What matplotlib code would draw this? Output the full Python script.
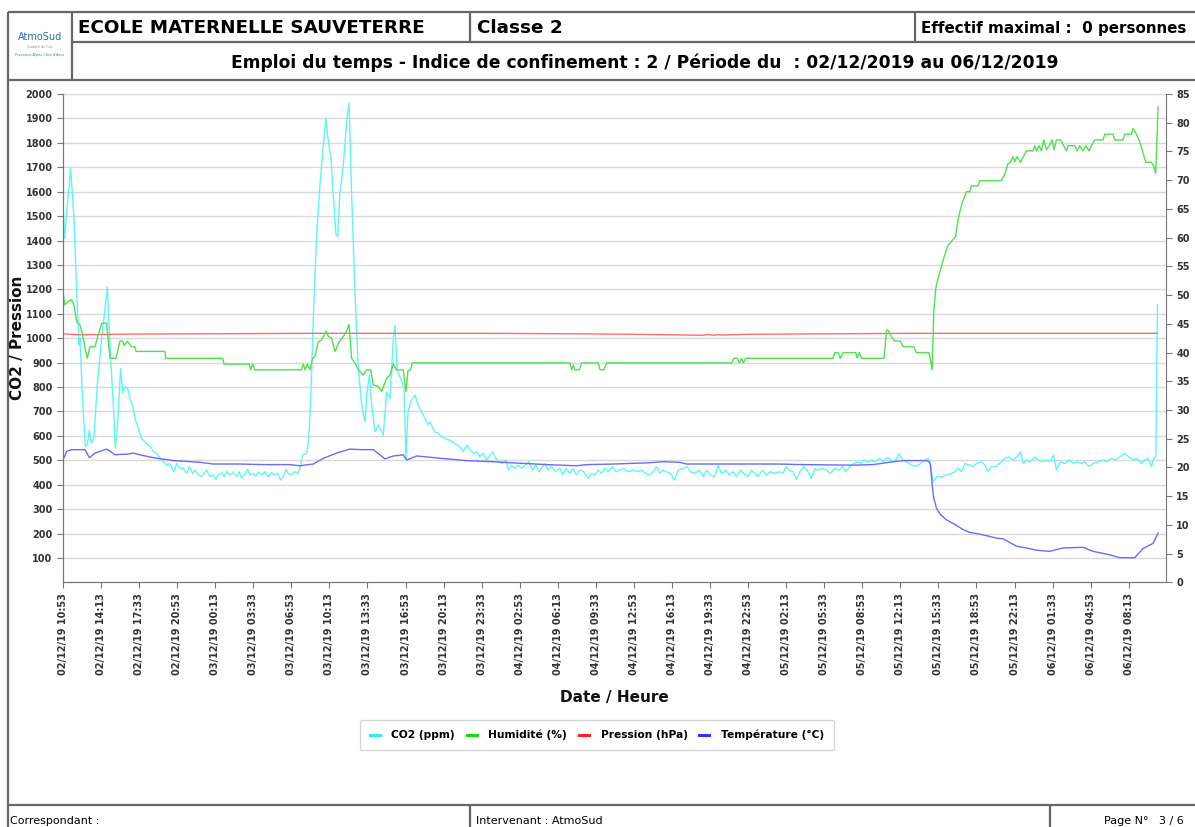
import datetime as dt
import matplotlib
matplotlib.use("Agg")
import matplotlib.pyplot as plt
import matplotlib.dates as mdates
from matplotlib.lines import Line2D

plt.rcParams['font.family'] = 'DejaVu Sans'
plt.rcParams['font.weight'] = 'bold'

start = dt.datetime(2019, 12, 2, 10, 53)

# (hours since start, value)
co2_points = [
    (0, 1559), (0.15, 1409), (0.32, 1518), (0.67, 1696), (0.96, 1491), (1.2, 1190),
    (1.4, 972), (1.49, 1000), (1.72, 740), (1.96, 556), (2.13, 563), (2.31, 624),
    (2.48, 570), (2.71, 590), (3.0, 808), (3.39, 1000), (3.65, 1109), (3.88, 1211),
    (4.17, 918), (4.47, 672), (4.58, 549), (4.76, 631), (4.87, 726), (5.05, 877),
    (5.23, 774), (5.43, 801), (5.66, 795), (5.93, 740), (6.1, 726), (6.3, 672),
    (6.89, 589), (7.18, 575), (7.47, 562), (7.68, 555), (7.91, 535), (8.2, 528),
    (8.5, 508), (8.79, 494), (9.08, 480), (9.37, 487), (9.72, 453), (9.95, 487),
    (10.25, 467), (10.54, 467), (10.83, 446), (11.06, 474), (11.36, 446), (11.56, 460),
    (11.85, 440), (12.14, 433), (12.35, 446), (12.58, 460), (12.87, 433), (13.16, 440),
    (13.4, 422), (13.6, 440), (13.89, 449), (14.13, 433), (14.33, 453), (14.62, 440),
    (14.91, 449), (15.21, 433), (15.44, 453), (15.65, 426), (15.94, 446), (16.17, 463),
    (16.37, 440), (16.67, 446), (16.9, 435), (17.1, 453), (17.4, 440), (17.69, 453),
    (17.98, 433), (18.27, 449), (18.56, 440), (18.8, 446), (19.06, 419), (19.29, 433),
    (19.53, 463), (19.73, 446), (20.02, 440), (20.31, 453), (20.6, 446), (20.81, 480),
    (20.99, 521), (21.34, 528), (21.52, 590), (21.69, 740), (21.92, 1081), (22.21, 1423),
    (22.5, 1627), (22.8, 1791), (23.03, 1900), (23.24, 1805), (23.47, 1737), (23.67, 1586),
    (23.91, 1423), (24.05, 1416), (24.26, 1600), (24.55, 1709), (24.84, 1887), (25.05, 1962),
    (25.28, 1586), (25.57, 1190), (25.86, 877), (26.16, 726), (26.45, 658), (26.59, 767),
    (26.83, 849), (27.03, 726), (27.32, 617), (27.61, 645), (28.05, 603), (28.34, 780),
    (28.64, 754), (28.93, 1000), (29.07, 1054), (29.28, 863), (29.57, 836), (29.86, 795),
    (30.04, 508), (30.21, 699), (30.45, 740), (30.83, 767), (31.12, 726), (31.55, 685),
    (31.99, 645), (32.13, 657), (32.57, 616), (32.86, 610), (33.15, 596), (33.44, 589),
    (33.88, 582), (34.32, 569), (34.76, 555), (35.05, 535), (35.4, 562), (35.69, 541),
    (35.98, 528), (36.27, 535), (36.51, 514), (36.8, 528), (37.09, 501), (37.33, 514),
    (37.62, 535), (37.91, 508), (38.2, 494), (38.5, 487), (38.79, 501), (39.0, 460),
    (39.28, 480), (39.57, 467), (39.87, 480), (40.16, 467), (40.45, 480), (40.83, 494),
    (41.12, 460), (41.41, 480), (41.7, 453), (42.2, 487), (42.49, 460), (42.78, 474),
    (43.16, 453), (43.51, 467), (43.75, 440), (44.04, 467), (44.39, 446), (44.68, 467),
    (44.97, 440), (45.27, 460), (45.62, 453), (45.99, 426), (46.29, 446), (46.58, 440),
    (46.87, 460), (47.16, 446), (47.45, 467), (47.75, 453), (48.13, 474), (48.42, 453),
    (48.77, 460), (49.12, 467), (49.5, 453), (49.94, 460), (50.37, 453), (50.67, 460),
    (51.05, 446), (51.4, 440), (51.69, 453), (51.98, 474), (52.27, 446), (52.56, 460),
    (52.86, 453), (53.21, 446), (53.53, 419), (53.88, 460), (54.31, 467), (54.66, 474),
    (54.96, 453), (55.34, 446), (55.72, 460), (56.07, 433), (56.36, 460), (56.71, 440),
    (57.09, 433), (57.38, 480), (57.67, 446), (58.05, 460), (58.34, 440), (58.69, 453),
    (58.98, 433), (59.33, 460), (59.63, 446), (60.0, 433), (60.3, 460), (60.59, 446),
    (60.88, 433), (61.26, 460), (61.61, 440), (61.96, 453), (62.34, 446), (62.72, 453),
    (63.07, 446), (63.3, 474), (63.6, 460), (63.95, 453), (64.24, 422), (64.53, 453),
    (64.88, 474), (65.17, 460), (65.55, 426), (65.84, 467), (66.14, 460), (66.51, 467),
    (66.87, 460), (67.22, 446), (67.59, 467), (67.97, 460), (68.27, 474), (68.56, 453),
    (68.91, 474), (69.26, 487), (69.55, 494), (69.84, 487), (70.22, 501), (70.51, 490),
    (70.81, 501), (71.18, 494), (71.54, 508), (71.83, 494), (72.18, 512), (72.56, 501),
    (72.85, 494), (73.23, 528), (73.52, 501), (73.87, 494), (74.31, 480), (74.75, 474),
    (75.1, 487), (75.48, 501), (75.77, 508), (75.91, 494), (76.21, 412), (76.56, 433),
    (76.94, 433), (77.37, 440), (77.81, 446), (78.1, 453), (78.4, 467), (78.69, 453),
    (78.98, 487), (79.36, 480), (79.71, 474), (80.0, 487), (80.44, 494), (80.73, 480),
    (81.02, 453), (81.31, 474), (81.69, 474), (82.04, 487), (82.48, 508), (82.86, 514),
    (83.21, 501), (83.56, 514), (83.85, 535), (84.09, 487), (84.38, 501), (84.73, 494),
    (85.11, 514), (85.4, 501), (85.78, 494), (86.07, 501), (86.42, 494), (86.77, 521),
    (87.01, 460), (87.36, 494), (87.74, 487), (88.12, 501), (88.47, 487), (88.82, 494),
    (89.2, 487), (89.49, 494), (89.87, 474), (90.22, 487), (90.66, 494), (91.09, 501),
    (91.44, 494), (91.82, 508), (92.2, 501), (92.55, 514), (92.99, 528), (93.37, 514),
    (93.72, 501), (94.07, 508), (94.45, 487), (94.74, 501), (95.03, 508), (95.33, 474),
    (95.53, 508), (95.71, 514), (95.85, 1136),
]

humidity_points = [
    (0, 50.6), (0.15, 48.3), (0.47, 48.9), (0.76, 49.2), (0.96, 48.3), (1.2, 45.4),
    (1.49, 44.8), (1.72, 43.1), (1.93, 40.8), (2.13, 39.0), (2.36, 41.0), (2.8, 41.0),
    (3.09, 43.1), (3.39, 45.1), (3.82, 45.1), (4.12, 39.0), (4.64, 39.0), (4.99, 42.0),
    (5.23, 42.0), (5.37, 41.2), (5.63, 42.0), (6.01, 41.0), (6.3, 41.0), (6.39, 40.2),
    (8.93, 40.2), (8.99, 39.0), (13.98, 39.0), (14.1, 38.0), (16.32, 38.0), (16.43, 37.0),
    (16.61, 38.0), (16.81, 37.0), (20.9, 37.0), (21.05, 38.0), (21.19, 37.0), (21.4, 38.0),
    (21.63, 37.0), (21.86, 39.0), (22.07, 39.3), (22.36, 41.9), (22.65, 42.2), (23.03, 43.7),
    (23.24, 42.8), (23.53, 42.5), (23.82, 40.2), (24.2, 41.9), (24.55, 42.8), (24.84, 43.7),
    (25.05, 44.9), (25.28, 39.0), (25.57, 38.2), (25.86, 37.0), (26.3, 36.1), (26.59, 37.0),
    (26.94, 37.0), (27.18, 34.4), (27.61, 34.1), (27.9, 33.2), (28.34, 35.5), (28.64, 36.1),
    (28.93, 38.0), (29.22, 37.0), (29.8, 37.0), (30.04, 33.2), (30.21, 36.8), (30.45, 37.0),
    (30.59, 38.2), (44.4, 38.2), (44.55, 37.0), (44.69, 37.8), (44.84, 37.0), (45.22, 37.0),
    (45.42, 38.2), (46.88, 38.2), (47.03, 37.0), (47.38, 37.0), (47.61, 38.2), (58.56, 38.2),
    (58.76, 39.0), (59.05, 39.0), (59.23, 38.2), (59.43, 39.0), (59.58, 38.2), (59.78, 39.0),
    (67.45, 39.0), (67.59, 40.0), (67.88, 40.0), (68.09, 39.0), (68.32, 40.0), (69.43, 40.0),
    (69.55, 39.1), (69.72, 40.0), (69.93, 39.0), (71.91, 39.0), (72.12, 43.9), (72.26, 43.9),
    (72.55, 42.8), (72.85, 42.0), (73.34, 42.0), (73.58, 41.0), (74.51, 41.0), (74.74, 40.0),
    (75.85, 40.0), (76.12, 37.0), (76.26, 47.1), (76.44, 51.2), (76.64, 52.9), (76.93, 55.0),
    (77.22, 57.0), (77.52, 58.7), (77.81, 59.3), (78.16, 60.2), (78.45, 63.7), (78.74, 66.0),
    (79.12, 68.0), (79.41, 68.0), (79.56, 69.0), (80.14, 69.0), (80.29, 69.9), (82.19, 69.9),
    (82.48, 71.0), (82.77, 72.9), (82.98, 73.1), (83.21, 74.1), (83.35, 73.2), (83.56, 74.1),
    (83.85, 73.1), (84.38, 75.1), (84.96, 75.1), (85.11, 76.0), (85.25, 75.1), (85.49, 76.0),
    (85.69, 75.1), (85.9, 77.0), (86.13, 75.3), (86.36, 76.0), (86.62, 77.0), (86.8, 75.3),
    (87.0, 77.0), (87.38, 77.0), (87.88, 75.1), (88.03, 76.0), (88.61, 76.0), (88.81, 75.1),
    (89.05, 76.0), (89.34, 75.1), (89.57, 76.0), (89.86, 75.1), (90.07, 76.0), (90.36, 77.0),
    (91.09, 77.0), (91.24, 78.0), (91.97, 78.0), (92.11, 77.0), (92.84, 77.0), (92.99, 78.0),
    (93.57, 78.0), (93.72, 79.0), (94.01, 78.0), (94.3, 76.7), (94.59, 74.7), (94.83, 73.1),
    (95.32, 73.1), (95.53, 72.4), (95.7, 71.2), (95.91, 82.8),
]

pressure_points = [
    (0, 1018), (1.6, 1014), (6.0, 1017), (12.0, 1018), (22.0, 1020), (30.0, 1020),
    (37.0, 1020), (45.0, 1018), (50.0, 1016), (56.0, 1012), (56.5, 1015), (57.0, 1012),
    (57.3, 1015), (57.6, 1013), (60.0, 1016), (67.0, 1018), (75.0, 1020), (95.85, 1020),
]

temperature_points = [
    (0, 21.3), (0.32, 22.8), (0.76, 23.1), (1.93, 23.1), (2.31, 21.7), (2.8, 22.5),
    (3.24, 22.8), (3.82, 23.2), (4.12, 22.8), (4.58, 22.2), (5.14, 22.3), (5.58, 22.3),
    (6.16, 22.5), (6.74, 22.2), (7.91, 21.7), (9.66, 21.2), (12.0, 20.9), (13.16, 20.6),
    (15.5, 20.6), (17.54, 20.5), (19.88, 20.5), (20.75, 20.3), (21.92, 20.6), (22.8, 21.6),
    (23.97, 22.5), (25.13, 23.2), (26.16, 23.1), (27.18, 23.1), (28.2, 21.5), (28.93, 22.0),
    (29.8, 22.2), (30.1, 21.3), (30.97, 22.0), (33.6, 21.5), (35.35, 21.2), (37.68, 21.0),
    (39.44, 20.8), (42.36, 20.5), (44.98, 20.3), (45.86, 20.5), (48.19, 20.6), (51.11, 20.8),
    (52.57, 21.0), (54.03, 20.9), (54.62, 20.6), (56.95, 20.6), (59.87, 20.6), (62.64, 20.6),
    (64.82, 20.5), (69.2, 20.4), (70.95, 20.5), (72.7, 21.0), (73.58, 21.2), (75.62, 21.2),
    (75.85, 21.0), (75.97, 20.5), (76.12, 17.0), (76.26, 14.7), (76.5, 12.9), (76.85, 11.8),
    (77.37, 10.9), (78.1, 10.1), (78.83, 9.2), (79.41, 8.7), (80.29, 8.4), (81.17, 8.0),
    (81.75, 7.7), (82.33, 7.6), (83.5, 6.3), (84.38, 6.0), (85.25, 5.6), (86.42, 5.4),
    (87.59, 6.0), (89.34, 6.1), (90.22, 5.4), (91.67, 4.8), (92.55, 4.3), (93.86, 4.3),
    (94.59, 5.9), (95.47, 6.8), (95.91, 8.6),
]

series_labels = ['CO2 (ppm)', 'Humidité (%)', 'Pression (hPa)', 'Température (°C)']
series_colors = ['#5cf6f6', '#4de24d', '#ff6a6a', '#6a6aff']
legend_colors = ['#22eeff', '#11dd11', '#ff2222', '#3333ff']


def unpack(points):
    times = [start + dt.timedelta(hours=h) for h, _ in points]
    vals = [v for _, v in points]
    return times, vals


W, H = 1195, 827
fig = plt.figure(figsize=(W / 100, H / 100), dpi=100)

# page frame / header / footer, drawn in pixel coordinates
page = fig.add_axes([0, 0, 1, 1], zorder=-1)
page.set_xlim(0, W)
page.set_ylim(H, 0)
page.axis('off')
lc = '#666666'
for (x0, y0, x1, y1) in [(8, 12, W, 12), (8, 12, 8, H), (72, 12, 72, 80), (72, 42, W, 42),
                         (470, 12, 470, 42), (915, 12, 915, 42), (8, 80, W, 80),
                         (8, 805, W, 805), (470, 805, 470, H), (1050, 805, 1050, H)]:
    page.plot([x0, x1], [y0, y1], color=lc, lw=1.6, solid_capstyle='butt')

page.text(40, 37, 'AtmoSud', color='#2b6cb0', fontsize=7, fontweight='normal',
          ha='center', va='center')
page.text(40, 47, 'Qualité de l\'air', color='#888888', fontsize=2.5, fontweight='normal',
          ha='center', va='center')
page.text(40, 55, 'Provence-Alpes-Côte d\'Azur', color='#3a7fc0', fontsize=2.5,
          fontweight='normal', ha='center', va='center')
page.text(78, 28, 'ECOLE MATERNELLE SAUVETERRE', fontsize=13.2, ha='left', va='center')
page.text(477, 28, 'Classe 2', fontsize=13.2, ha='left', va='center')
page.text(921, 29, 'Effectif maximal :  0 personnes', fontsize=10.9, ha='left', va='center')
page.text(645, 63, 'Emploi du temps - Indice de confinement : 2 / Période du  : 02/12/2019 au 06/12/2019',
          fontsize=12.3, ha='center', va='center')
page.text(10, 821, 'Correspondant :', fontsize=8, fontweight='normal', ha='left', va='center')
page.text(476, 821, 'Intervenant : AtmoSud', fontsize=8, fontweight='normal', ha='left', va='center')
page.text(1184, 821, 'Page N°   3 / 6', fontsize=8, fontweight='normal', ha='right', va='center')

# chart
left, right, top, bottom = 63, 1166, 94, 582.4
ax = fig.add_axes([left / W, 1 - bottom / H, (right - left) / W, (bottom - top) / H])
ax2 = ax.twinx()

t, v = unpack(co2_points)
ax.plot(t, v, color=series_colors[0], lw=1.0, zorder=3)
t, v = unpack(pressure_points)
ax.plot(t, v, color=series_colors[2], lw=1.0, zorder=3)
t, v = unpack(humidity_points)
ax2.plot(t, v, color=series_colors[1], lw=1.0)
t, v = unpack(temperature_points)
ax2.plot(t, v, color=series_colors[3], lw=1.0)

ax.set_xlim(start, start + dt.timedelta(hours=96.6))
ax.set_ylim(0, 2000)
ax2.set_ylim(0, 85)
ax.set_yticks(range(100, 2001, 100))
ax2.set_yticks(range(0, 86, 5))
ax.set_xticks([start + dt.timedelta(minutes=200 * k) for k in range(29)])
ax.xaxis.set_major_formatter(mdates.DateFormatter('%d/%m/%y %H:%M'))

ax.yaxis.grid(True, color='#d9d9d9', lw=1.0)
ax.set_axisbelow(True)
for a in (ax, ax2):
    a.spines['top'].set_visible(False)
    for s in a.spines.values():
        s.set_color('#777777')
ax.spines['right'].set_visible(False)
ax.tick_params(axis='both', labelsize=7, colors='#777777', labelcolor='#333333', length=4)
ax2.tick_params(axis='y', labelsize=7, colors='#777777', labelcolor='#333333', length=4)
for lab in ax.get_xticklabels():
    lab.set_rotation(90)

ax.set_ylabel('CO2 / Pression', fontsize=11, fontweight='bold', color='#111111')
ax.yaxis.set_label_coords((25 - left) / (right - left), 0.5)
ax.set_xlabel('Date / Heure', fontsize=11, fontweight='bold', color='#111111')
ax.xaxis.set_label_coords(0.5, -(690 - bottom) / (bottom - top))

handles = [Line2D([], [], color=c, lw=2.2) for c in legend_colors]
fig.legend(handles, series_labels, loc='center', bbox_to_anchor=(597 / W, 1 - 735 / H),
           ncol=4, fontsize=7.7, frameon=True, fancybox=True, edgecolor='#cccccc',
           handlelength=0.93, columnspacing=1.1, handletextpad=1.1, borderpad=0.95)

fig.savefig('out.png', dpi=100)
